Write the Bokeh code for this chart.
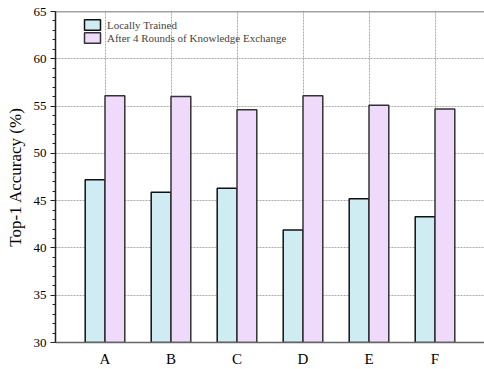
from bokeh.plotting import figure
from bokeh.models import (ColumnDataSource, FixedTicker, Range1d, Legend, LegendItem, Span)
from bokeh.embed import file_html
from bokeh.resources import INLINE

categories = ["A", "B", "C", "D", "E", "F"]
locally_trained = [47.2, 45.9, 46.3, 41.9, 45.2, 43.3]
after_exchange = [56.1, 56.0, 54.6, 56.1, 55.1, 54.7]
y_ticks = [30, 35, 40, 45, 50, 55, 60, 65]

FONT = "Liberation Serif"
bw = 0.3
pos = [i + 1 for i in range(len(categories))]

p = figure(width=484, height=369, output_backend="svg", toolbar_location=None,
           x_range=Range1d(0.25, 6.75), y_range=Range1d(30, 65),
           min_border_left=55, min_border_right=0, min_border_top=11, min_border_bottom=0)
p.outline_line_color = None
p.background_fill_color = "white"
p.border_fill_color = "white"

src1 = ColumnDataSource(dict(x=[x - bw / 2 for x in pos], top=locally_trained))
src2 = ColumnDataSource(dict(x=[x + bw / 2 for x in pos], top=after_exchange))
r1 = p.vbar(x="x", top="top", bottom=30, width=bw, source=src1,
            fill_color="#D0ECF3", line_color="#111111", line_width=1.5)
r2 = p.vbar(x="x", top="top", bottom=30, width=bw, source=src2,
            fill_color="#F0DAFB", line_color="#333333", line_width=1.5)

# axes
p.xaxis.ticker = FixedTicker(ticks=pos)
p.xaxis.major_label_overrides = {x: c for x, c in zip(pos, categories)}
p.xaxis.major_tick_line_color = None
p.xaxis.major_tick_out = 0
p.xaxis.major_tick_in = 0
p.xaxis.minor_tick_line_color = None
p.xaxis.minor_tick_out = 0
p.xaxis.axis_line_color = "#666666"
p.xaxis.axis_line_width = 1.5
p.xaxis.major_label_text_font = FONT
p.xaxis.major_label_text_font_size = "15px"
p.xaxis.major_label_text_color = "black"
p.xaxis.major_label_standoff = 8

p.yaxis.ticker = FixedTicker(ticks=y_ticks, minor_ticks=list(range(30, 66)))
p.yaxis.major_tick_out = 5
p.yaxis.major_tick_in = 0
p.yaxis.minor_tick_out = 3
p.yaxis.minor_tick_in = 0
p.yaxis.axis_line_color = "#222222"
p.yaxis.axis_line_width = 1.5
p.yaxis.major_tick_line_color = "#222222"
p.yaxis.minor_tick_line_color = "#222222"
p.yaxis.major_label_text_font = FONT
p.yaxis.major_label_text_font_size = "13px"
p.yaxis.major_label_text_color = "black"
p.yaxis.major_label_standoff = 4
p.yaxis.axis_label = "Top-1 Accuracy (%)"
p.yaxis.axis_label_text_font = FONT
p.yaxis.axis_label_text_font_size = "17px"
p.yaxis.axis_label_text_font_style = "normal"
p.yaxis.axis_label_text_color = "black"
p.yaxis.axis_label_standoff = 6

# grid
for g in (p.xgrid, p.ygrid):
    g.grid_line_color = "#aaaaaa"
    g.grid_line_dash = "2 1"
    g.grid_line_width = 1
p.xgrid.ticker = FixedTicker(ticks=pos)
p.ygrid.ticker = FixedTicker(ticks=y_ticks)

# top border line
p.add_layout(Span(location=65, dimension="width", line_color="#444444", line_width=1.5))

legend = Legend(items=[LegendItem(label="Locally Trained", renderers=[r1]),
                       LegendItem(label="After 4 Rounds of Knowledge Exchange", renderers=[r2])],
                location=(27, 298), padding=0, margin=0, spacing=0,
                glyph_width=20, glyph_height=13, label_height=13, label_standoff=5,
                label_text_font=FONT, label_text_font_size="11px",
                background_fill_alpha=0, border_line_alpha=0)
p.add_layout(legend)

open("out.html", "w").write(file_html(p, INLINE))
